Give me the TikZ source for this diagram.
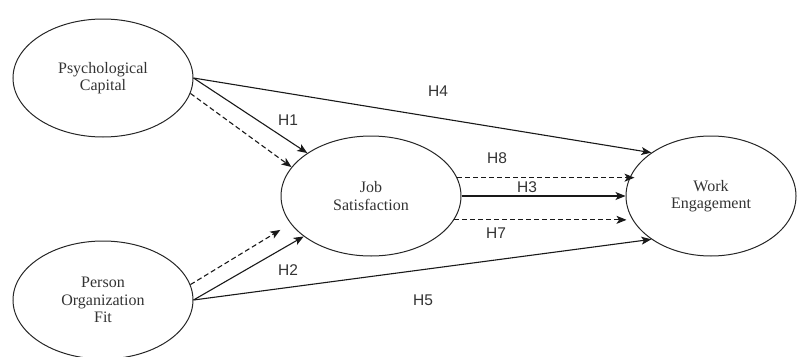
\documentclass[tikz,border=0pt]{standalone}
\usepackage{fontspec}
\setmainfont{Liberation Serif}
\newfontfamily\labfont{Liberation Sans}
\usetikzlibrary{arrows.meta,calc,shapes.geometric}
\begin{document}
\begin{tikzpicture}[x=1pt,y=-1pt,
  latent/.style={draw=black!85, line width=1pt, ellipse, inner sep=0pt, align=center,
    font=\fontsize{16}{17.5}\selectfont, text=black!80},
  conn/.style={line width=1.1pt, draw=black!90, -{Stealth[length=10pt,width=8pt,inset=2.5pt]}},
  dconn/.style={conn, dash pattern=on 5pt off 3pt},
  hlab/.style={font=\labfont\fontsize{15.5}{15.5}\selectfont, text=black!80, inner sep=0pt}]
\clip (0,0) rectangle (797,356);
\node[latent, minimum width=180pt, minimum height=118pt] (pc) at (103,78) {Psychological\\Capital};
\node[latent, minimum width=180pt, minimum height=118pt] (pof) at (103,300) {Person\\Organization\\Fit};
\node[latent, minimum width=180pt, minimum height=120pt] (js) at (371,196) {Job\\Satisfaction};
\node[latent, minimum width=170pt, minimum height=120pt] (we) at (711,196) {Work\\Engagement};

% from Psychological Capital
\draw[conn] (pc.east) -- (js.146);
\draw[dconn] (pc.-10.5) -- (js.160);
\draw[conn] (pc.east) -- (we.144);
% from Person Organization Fit
\draw[conn] (pof.east) -- (js.211);
\draw[dconn, shorten >=12pt] (pof.10) -- (js.199);
\draw[conn] (pof.east) -- (we.216);
% from Job Satisfaction
\draw[dconn] (js.12.5) -- ([xshift=9pt]js.12.5 -| we.west);
\draw[conn] (js.east) -- (we.west);
\draw[dconn] (js.-16) -- ([xshift=1pt]js.-16 -| we.west);

\node[hlab] (h1) at (288,120) {H1};
\node[hlab] (h4) at (438,91) {H4};
\node[hlab] (h8) at (497,158) {H8};
\node[hlab] (h3) at (527,187) {H3};
\node[hlab] (h7) at (496,233) {H7};
\node[hlab] (h2) at (288,270) {H2};
\node[hlab] (h5) at (423,300) {H5};
\end{tikzpicture}
\end{document}
